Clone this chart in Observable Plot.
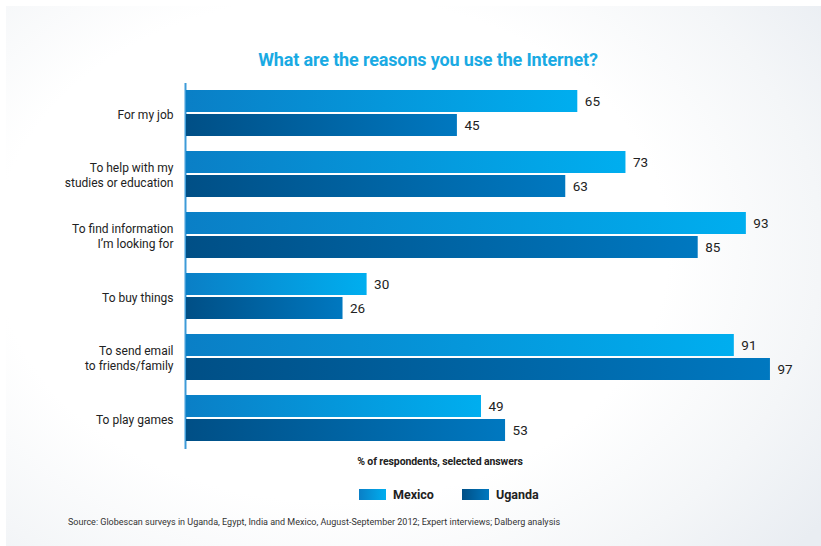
<!DOCTYPE html>
<html>
<head>
<meta charset="utf-8">
<script src="https://cdn.jsdelivr.net/npm/d3@7"></script>
<script src="https://cdn.jsdelivr.net/npm/@observablehq/plot@0.6"></script>
<style>
  html, body { margin: 0; padding: 0; background: #fff; }
  body { width: 821px; height: 546px; position: relative; overflow: hidden; font-family: Roboto, "Liberation Sans", Arial, sans-serif; }
  #panel { position: absolute; left: 6px; top: 6px; right: 0; bottom: 0;
    background: radial-gradient(ellipse 75% 85% at 40% 45%, #ffffff 55%, #f4f6f8 80%, #e9edf2 100%); }
  #title { position: absolute; left: 0; width: 856px; top: 49px; text-align: center; color: #1aaae3;
    font: bold 18px Roboto, sans-serif; letter-spacing: -0.15px; }
  #chart { position: absolute; left: 0; top: 0; }
  #xlabel { position: absolute; left: 340px; width: 200px; top: 455px; text-align: center; color: #222;
    font: bold 10.5px Roboto, sans-serif; letter-spacing: -0.1px; }
  #legend { position: absolute; top: 487px; left: 359px; font: bold 12.5px Roboto, sans-serif; color: #222; display: flex; align-items: center; }
  #legend .item { display: flex; align-items: center; }
  #legend .sw { width: 27px; height: 11px; margin-right: 7px; }
  #source { position: absolute; left: 68px; top: 517px; color: #333;
    font: 9px Roboto, sans-serif; }
</style>
</head>
<body>
<div id="panel"></div>
<div id="title">What are the reasons you use the Internet?</div>
<div id="chart"></div>
<div id="xlabel">% of respondents, selected answers</div>
<div id="legend"></div>
<div id="source">Source: Globescan surveys in Uganda, Egypt, India and Mexico, August-September 2012; Expert interviews; Dalberg analysis</div>
<script>
const categories = [
  "For my job",
  "To help with my\nstudies or education",
  "To find information\nI’m looking for",
  "To buy things",
  "To send email\nto friends/family",
  "To play games"
];
const seriesNames = ["Mexico", "Uganda"];
const mexico = [65, 73, 93, 30, 91, 49];
const uganda = [45, 63, 85, 26, 97, 53];

const seriesFills = {Mexico: "url(#gradMexico)", Uganda: "url(#gradUganda)"};
const swatchCss = {Mexico: "linear-gradient(to right, #0a7fc6, #00aeef)", Uganda: "linear-gradient(to right, #004f86, #0078c0)"};

const data = [];
categories.forEach((c, i) => {
  data.push({category: c, series: "Mexico", value: mexico[i]});
  data.push({category: c, series: "Uganda", value: uganda[i]});
});

const chart = Plot.plot({
  width: 821,
  height: 452,
  marginTop: 88,
  marginBottom: 8.4,
  marginLeft: 186,
  marginRight: 33,
  style: {background: "transparent", fontFamily: "Roboto, 'Liberation Sans', Arial, sans-serif", color: "#222"},
  x: {domain: [0, 100], axis: null},
  y: {domain: seriesNames, axis: null, paddingInner: 0.065, paddingOuter: 0},
  fy: {domain: categories, paddingInner: 0.227, paddingOuter: 0, label: null, tickSize: 0, tickPadding: 13},
  color: {domain: seriesNames, range: seriesNames.map(s => seriesFills[s])},
  marks: [
    Plot.axisFy({anchor: "left", tickSize: 0, tickPadding: 13, label: null, fontSize: 12, lineHeight: 1.2, fill: "#222"}),
    Plot.ruleX([0], {stroke: "#3d9bd8", strokeWidth: 2, insetTop: -7, insetBottom: -7, dx: -1}),
    Plot.barX(data, {fy: "category", y: "series", x: "value", fill: "series"}),
    Plot.text(data, {fy: "category", y: "series", x: "value", text: d => String(d.value), dx: 7, textAnchor: "start", fontSize: 13.5, fill: "#222"})
  ]
});

// gradient definitions for bar fills
const svg = d3.select(chart.tagName.toLowerCase() === "svg" ? chart : chart.querySelector("svg"));
const defs = svg.insert("defs", ":first-child");
[["gradMexico", "#0a7fc6", "#00aeef"], ["gradUganda", "#004f86", "#0078c0"]].forEach(([id, a, b]) => {
  const g = defs.append("linearGradient").attr("id", id).attr("x1", "0").attr("x2", "1").attr("y1", "0").attr("y2", "0");
  g.append("stop").attr("offset", "0").attr("stop-color", a);
  g.append("stop").attr("offset", "1").attr("stop-color", b);
});
document.getElementById("chart").appendChild(chart);

const legend = document.getElementById("legend");
seriesNames.forEach((s, i) => {
  const item = document.createElement("div");
  item.className = "item";
  if (i > 0) item.style.marginLeft = "28px";
  const sw = document.createElement("div");
  sw.className = "sw";
  sw.style.background = swatchCss[s];
  item.appendChild(sw);
  const t = document.createElement("span");
  t.textContent = s;
  item.appendChild(t);
  legend.appendChild(item);
});
</script>
</body>
</html>
